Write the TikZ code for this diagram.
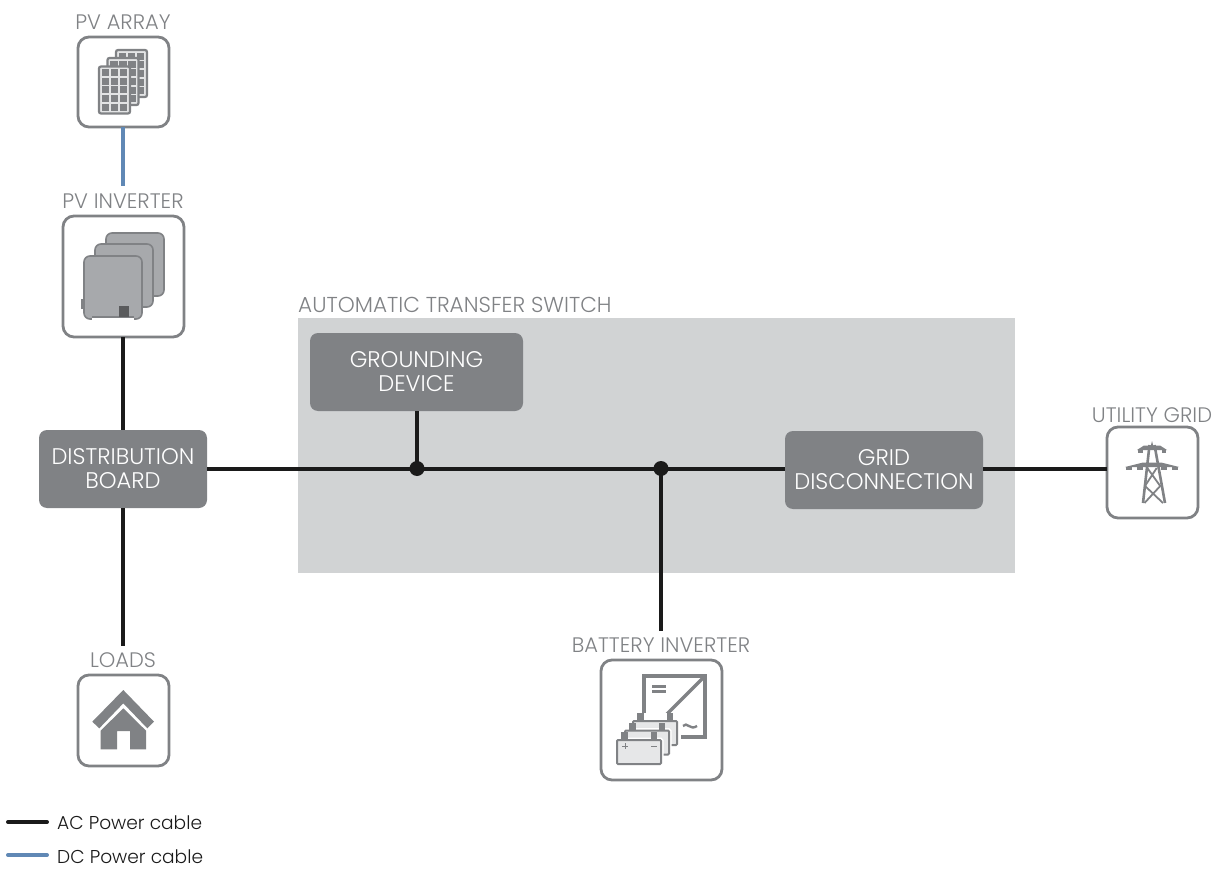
\documentclass[tikz,border=0pt]{standalone}
\usepackage{fontspec}
\setmainfont{Poppins}[UprightFont=* Light]
\definecolor{gr}{HTML}{808285}
\definecolor{mid}{HTML}{A7A9AC}
\definecolor{lite}{HTML}{E6E7E8}
\definecolor{bg}{HTML}{D1D3D4}
\definecolor{blu}{HTML}{6088B5}
\definecolor{blk}{HTML}{1A1A1A}
\tikzset{x=1pt,y=-1pt,
 iconbox/.style={draw=gr,line width=2.8pt,rounded corners=11pt,fill=white,inner sep=0,outer sep=0,anchor=north west},
 darkbox/.style={fill=gr,rounded corners=8pt,text=white,align=center,inner sep=0,outer sep=0,font=\fontsize{22.6}{24}\selectfont,anchor=north west},
 lbl/.style={text=gr,inner sep=0,font=\fontsize{21}{24}\selectfont},
 leg/.style={text=blk,inner sep=0,anchor=west,font=\fontsize{18.6}{22}\selectfont},
 ac/.style={draw=blk,line width=4pt},
 dc/.style={draw=blu,line width=4pt},
 junction/.style={circle,fill=blk,minimum size=15pt,inner sep=0},
}
\newcommand{\pvpanel}[2]{%
 \fill[bg!60!white,draw=gr,line width=2.2pt,rounded corners=2pt] (#1,#2) rectangle ++(31,47);
 \foreach \i in {0,1,2}\foreach \j in {0,1,2,3,4}{\fill[gr] ({#1+2.6+\i*9.1},{#2+2.8+\j*8.6}) rectangle ++(7.4,7);}
}
\newcommand{\invbody}[2]{%
 \fill[mid,draw=gr,line width=1.6pt,rounded corners=6pt] (#1,#2) rectangle ++(58,63);
}
\newcommand{\batt}[2]{%
 \fill[lite,draw=white,line width=5pt,rounded corners=1pt] (#1,#2) rectangle ++(44,24);
 \fill[gr] ({#1+4},{#2-8}) rectangle ++(6.5,8);
 \fill[gr] ({#1+33.5},{#2-8}) rectangle ++(6.5,8);
 \fill[lite,draw=gr,line width=2pt,rounded corners=1pt] (#1,#2) rectangle ++(44,24);
}
\begin{document}
\begin{tikzpicture}
\useasboundingbox (0,0) rectangle (1216,869);
\fill[bg] (298,318) rectangle (1015,573);
% boxes
\node[iconbox,minimum width=91pt,minimum height=90pt] (pvarray) at (78,37) {};
\node[iconbox,minimum width=121pt,minimum height=121pt] (pvinv) at (63,216) {};
\node[iconbox,minimum width=91pt,minimum height=91pt] (util) at (1107,427) {};
\node[iconbox,minimum width=121pt,minimum height=120pt] (batinv) at (601,660) {};
\node[iconbox,minimum width=91pt,minimum height=91pt] (loads) at (78,675) {};
\node[darkbox,minimum width=168pt,minimum height=78pt] (dist) at (39,430) {DISTRIBUTION\\BOARD};
\node[darkbox,minimum width=213pt,minimum height=78pt] (ground) at (310,333) {GROUNDING\\DEVICE};
\node[darkbox,minimum width=198pt,minimum height=78pt] (griddisc) at (785,431) {GRID\\DISCONNECTION};
% labels
\node[lbl] (lpva) at (123,22) {PV ARRAY};
\node[lbl] (lpvi) at (123,201) {PV INVERTER};
\node[lbl] (lutil) at (1152,415) {UTILITY GRID};
\node[lbl] (lbat) at (661,645) {BATTERY INVERTER};
\node[lbl] (lload) at (123,660) {LOADS};
\node[lbl,anchor=west,font=\fontsize{21.6}{24}\selectfont] (lats) at (298,305) {AUTOMATIC TRANSFER SWITCH};
% junctions
\coordinate (j1) at (417,468.5);
\coordinate (j2) at (661,468.5);
\coordinate (loadend) at (123,646);
\coordinate (batend) at (661,631);
\coordinate (pvend) at (123,186);
% connectors
\draw[dc] (pvarray.south -| pvend) -- (pvend);
\draw[ac] (pvinv.south -| pvend) -- (dist.north -| pvend);
\draw[ac] (dist.south -| loadend) -- (loadend);
\draw[ac] (dist.east |- j1) -- (griddisc.west |- j1);
\draw[ac] (griddisc.east |- j1) -- (util.west |- j1);
\draw[ac] (ground.south -| j1) -- (j1);
\draw[ac] (j2) -- (batend);
\node[junction] (dot1) at (j1) {};
\node[junction] (dot2) at (j2) {};
% PV array icon
\pvpanel{116}{50}\pvpanel{107.5}{58}\pvpanel{99}{66.5}
% PV inverter icon
\invbody{106}{233}\invbody{95}{244}
\fill[mid,draw=gr,line width=1.4pt] (82,300) rectangle (86,308);
\invbody{84}{256}
\fill[white] (92,317.6) rectangle (134,320.5);
\draw[gr,line width=1.6pt] (92,317) -- (134,317);
\fill[gr!70!black] (119,306) rectangle (129,317);
% tower
\begin{scope}[gr]
\draw[line width=2.6pt,line join=round]
 (1149.5,445) -- (1143,503) (1154.5,445) -- (1165,503);
\fill (1152,441) -- (1153.5,447) -- (1150.5,447) -- cycle;
\draw[line width=1.8pt] (1147.3,468) -- (1160.2,486) -- (1144.5,503) (1156.7,468) -- (1145,486) -- (1163,503);
\fill (1137,450) -- (1144,445.5) -- (1160,445.5) -- (1167,450) -- cycle;
\fill (1125,467) -- (1143,462.5) -- (1161,462.5) -- (1179,467) -- cycle;
\fill (1126,467) rectangle (1132,470);
\fill (1137,467) rectangle (1143,470);
\fill (1161,467) rectangle (1167,470);
\fill (1172,467) rectangle (1178,470);
\fill (1138,450) rectangle (1142.5,453);
\fill (1161.5,450) rectangle (1166,453);
\end{scope}
% battery inverter icon
\draw[gr,line width=3.2pt] (644,676) rectangle (705,737);
\draw[gr,line width=3.2pt] (705,676) -- (660,721);
\draw[gr,line width=2.4pt] (652,686.5) -- (666,686.5) (652,691.5) -- (666,691.5);
\fill[white] (640,713) rectangle (681,745);
\draw[gr,line width=2.4pt] (683,726) .. controls (687,721) and (690,731) .. (697,726);
\batt{633}{721}\batt{625}{730.5}\batt{617}{740}
\draw[gr,line width=.8pt] (622,746) -- (628,746) (625,743) -- (625,749);
\draw[gr,line width=1pt] (651,746) -- (657,746);
% house
\fill[gr] (123.3,690) -- (154,721.7) -- (147.3,728.3) -- (123.3,703.3) -- (99.3,728.3) -- (92.3,721.7) -- cycle;
\fill[gr] (123.3,708.3) -- (146,730.7) -- (146,749.3) -- (130,749.3) -- (130,731) -- (117,731) -- (117,749.3) -- (100.7,749.3) -- (100.7,730.7) -- cycle;
% legend
\coordinate (a1) at (8,822);\coordinate (a2) at (47,822);
\coordinate (b1) at (8,855);\coordinate (b2) at (47,855);
\draw[ac,line cap=round] (a1) -- (a2);
\draw[dc,line cap=round] (b1) -- (b2);
\node[leg] (lac) at (57,823) {AC Power cable};
\node[leg] (ldc) at (57,857) {DC Power cable};
\end{tikzpicture}
\end{document}
